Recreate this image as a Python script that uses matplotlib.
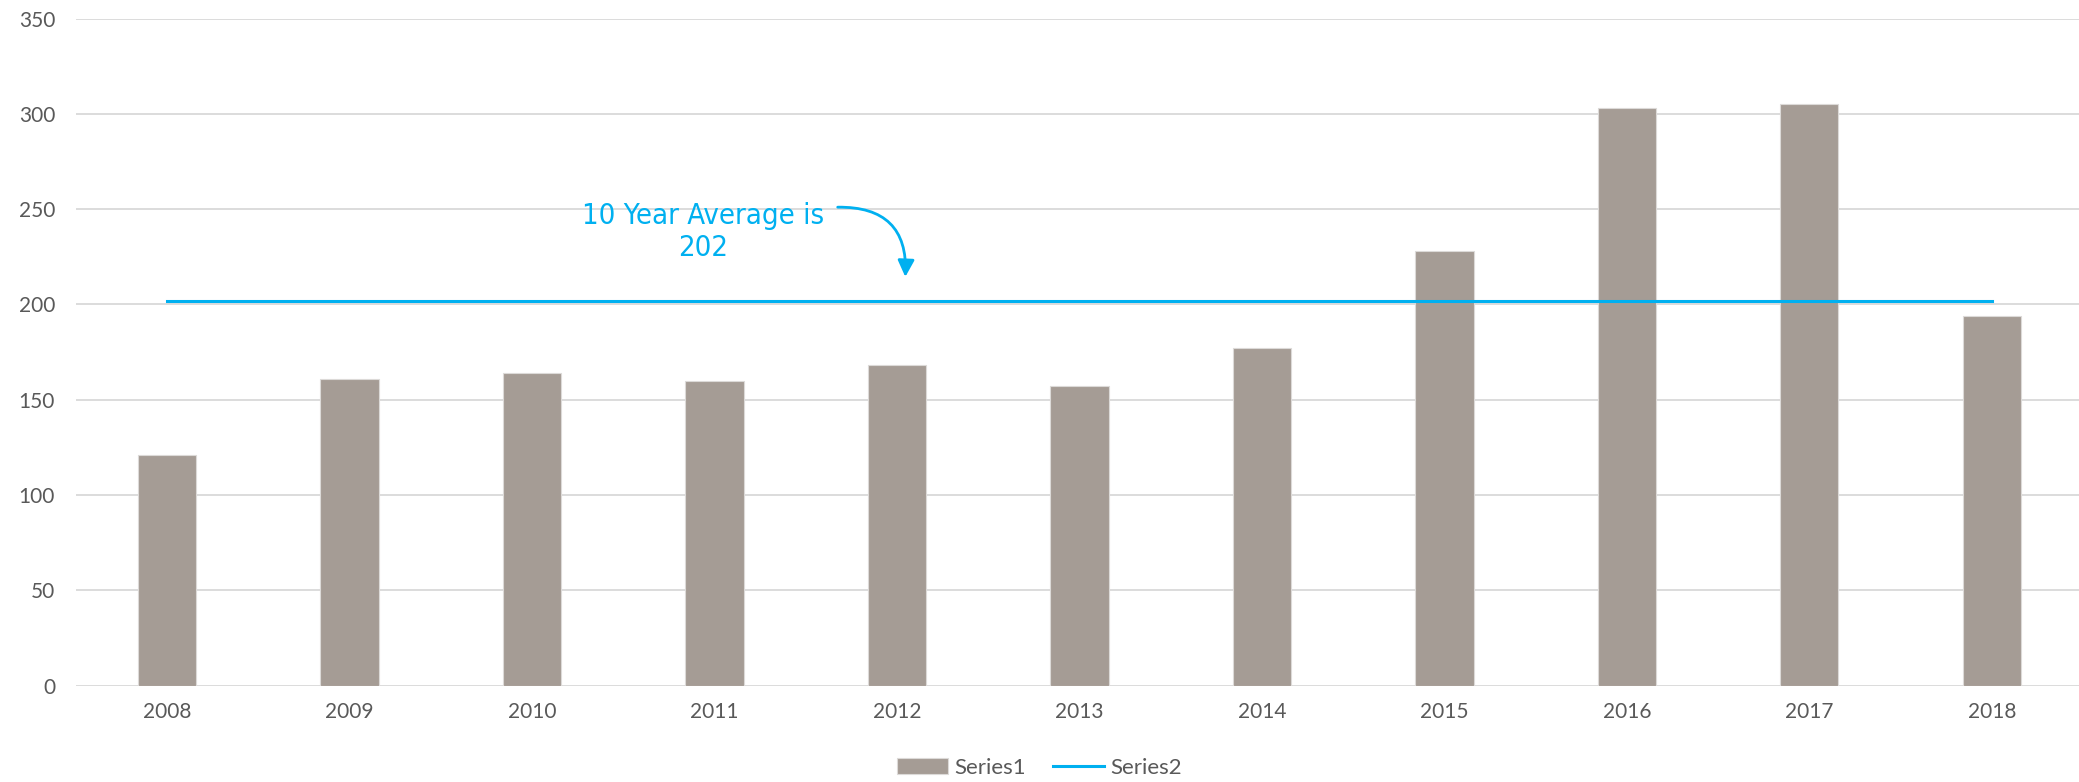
import matplotlib
matplotlib.use("Agg")
import matplotlib.pyplot as plt
from matplotlib import font_manager
import numpy as np

# data
years = ['2008', '2009', '2010', '2011', '2012', '2013', '2014', '2015', '2016', '2017', '2018']
series1 = [121, 161, 164, 160, 168, 157, 177, 228, 303, 305, 194]
series2 = [202] * len(years)
note = '10 Year Average is\n202'

plt.rcParams['font.family'] = ['Lato', 'DejaVu Sans']

# look for a narrow face for the note
narrow = [f for f in font_manager.fontManager.ttflist
          if 'narrow' in f.fname.lower() or 'condensed' in f.fname.lower()]
narrow.sort(key=lambda f: ('bold' in f.fname.lower(), 'oblique' in f.fname.lower() or 'italic' in f.fname.lower()))
note_prop = font_manager.FontProperties(fname=narrow[0].fname, size=21) if narrow else \
    font_manager.FontProperties(family='DejaVu Sans', size=18)

fig = plt.figure(figsize=(20.79, 7.82), dpi=100)
ax = fig.add_axes([0.0365, 0.1234, 0.9654, 0.8528])

x = np.arange(len(years))
ax.bar(x, series1, width=0.32, color='#A59C95', edgecolor='#DCDAD8', linewidth=0.8,
       label='Series1', zorder=2)
ax.plot(x, series2, color='#00B0F0', linewidth=2.2, label='Series2', zorder=3)

ax.set_xlim(-0.5, len(years) - 0.5)
ax.set_ylim(0, 350)
ax.set_yticks(range(0, 351, 50))
ax.set_xticks(x)
ax.set_xticklabels(years)
ax.yaxis.grid(True, color='#D9D9D9', linewidth=1.3, zorder=0)
ax.set_axisbelow(True)
for s in ax.spines.values():
    s.set_visible(False)
ax.tick_params(axis='both', length=0, labelsize=15, colors='#595959')
ax.tick_params(axis='y', pad=15)
ax.tick_params(axis='x', pad=12)

# note and arrow
ax.text(2.94, 238, note, ha='center', va='center', color='#00B0F0',
        fontproperties=note_prop, linespacing=1.15)
ax.annotate('', xy=(4.045, 213), xytext=(3.66, 251),
            arrowprops=dict(arrowstyle='-|>', color='#00B0F0', lw=2.0,
                            mutation_scale=25,
                            connectionstyle='arc3,rad=-0.55'))

h, l = ax.get_legend_handles_labels()
order = [l.index('Series1'), l.index('Series2')]
leg = fig.legend([h[i] for i in order], [l[i] for i in order],
                 loc='center', bbox_to_anchor=(0.5, 0.018), ncol=2, frameon=False,
                 fontsize=16, handlelength=2.3, handleheight=0.7, columnspacing=1.2,
                 handletextpad=0.3)
for t in leg.get_texts():
    t.set_color('#595959')

fig.savefig('out.png', dpi=100)
